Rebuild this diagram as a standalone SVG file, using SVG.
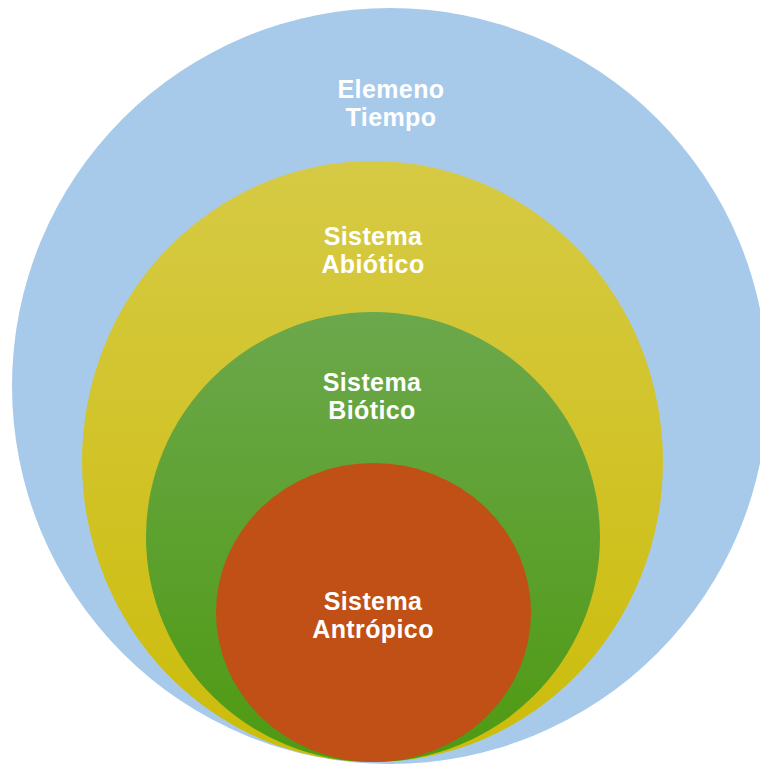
<svg xmlns="http://www.w3.org/2000/svg" width="760" height="764" viewBox="0 0 760 764">
  <defs>
    <linearGradient id="gYellow" x1="0" y1="0" x2="0" y2="1">
      <stop offset="0" stop-color="#D6CA45"/>
      <stop offset="1" stop-color="#CCBC0A"/>
    </linearGradient>
    <linearGradient id="gGreen" x1="0" y1="0" x2="0" y2="1">
      <stop offset="0" stop-color="#6CA84C"/>
      <stop offset="1" stop-color="#4E9A12"/>
    </linearGradient>
  </defs>
  <style>
    .lbl { font-family: "Liberation Sans", Arial, sans-serif; font-weight: bold; font-size: 25px; letter-spacing: 0.4px; fill: #FFFFFF; text-anchor: middle; }
  </style>
  <rect width="760" height="764" fill="#FFFFFF"/>
  <g id="tiempo">
    <circle cx="390" cy="386" r="378" fill="#A7CAEB"/>
    <text class="lbl" x="391" y="98">Elemeno</text>
    <text class="lbl" x="391" y="126">Tiempo</text>
  </g>
  <g id="abiotico">
    <ellipse cx="372.5" cy="461.5" rx="290.5" ry="300.5" fill="url(#gYellow)"/>
    <text class="lbl" x="373" y="245">Sistema</text>
    <text class="lbl" x="373" y="273">Abiótico</text>
  </g>
  <g id="biotico">
    <ellipse cx="373" cy="537" rx="227" ry="225" fill="url(#gGreen)"/>
    <text class="lbl" x="372" y="391">Sistema</text>
    <text class="lbl" x="372" y="419">Biótico</text>
  </g>
  <g id="antropico">
    <ellipse cx="373.5" cy="612.5" rx="157.5" ry="149.5" fill="#C05015"/>
    <text class="lbl" x="373" y="610">Sistema</text>
    <text class="lbl" x="373" y="638">Antrópico</text>
  </g>
</svg>
